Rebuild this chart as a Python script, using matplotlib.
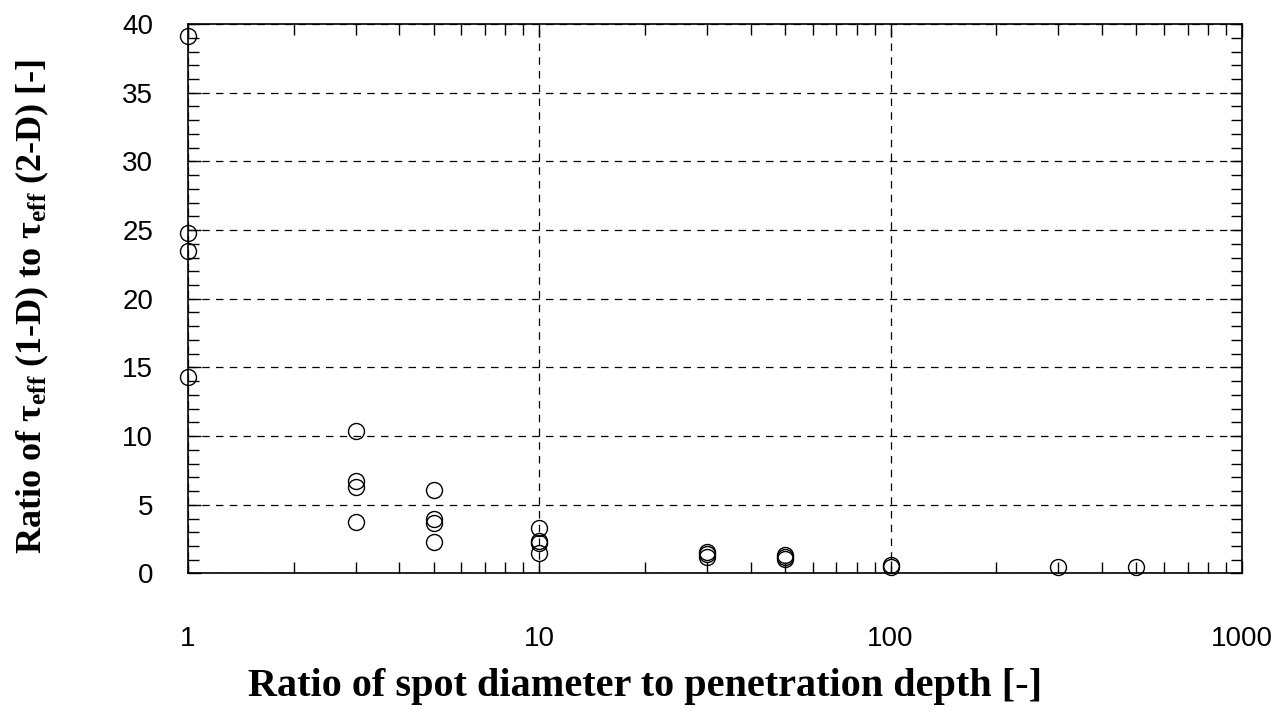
import matplotlib
matplotlib.use("Agg")
import matplotlib.pyplot as plt
from matplotlib.ticker import FixedLocator, NullFormatter, MultipleLocator, LogLocator

plt.rcParams["font.family"] = ["Liberation Sans", "DejaVu Sans"]
plt.rcParams["mathtext.fontset"] = "custom"
plt.rcParams["mathtext.rm"] = "Liberation Serif:bold"
plt.rcParams["mathtext.bf"] = "Liberation Serif:bold"
plt.rcParams["mathtext.it"] = "Liberation Serif:bold"

# Spot diameter / penetration depth ratio and the matching tau_eff ratios
spot_ratio = [1, 1, 1, 1,
              3, 3, 3, 3,
              5, 5, 5, 5,
              10, 10, 10, 10,
              30, 30, 30,
              50, 50, 50,
              100, 100,
              300, 500]
tau_ratio = [39.1, 24.8, 23.5, 14.3,
             10.4, 6.7, 6.3, 3.75,
             6.1, 4.0, 3.7, 2.3,
             3.3, 2.4, 2.2, 1.5,
             1.6, 1.4, 1.2,
             1.35, 1.2, 1.05,
             0.65, 0.5,
             0.5, 0.5]

x_ticks = [1, 10, 100, 1000]
x_ticklabels = ["1", "10", "100", "1000"]
y_ticks = [0, 5, 10, 15, 20, 25, 30, 35, 40]

fig = plt.figure(figsize=(12.83, 7.11), dpi=100)
ax = fig.add_axes([0.1465, 0.1934, 0.8215, 0.7728])

ax.set_xscale("log")
ax.set_xlim(1, 1000)
ax.set_ylim(0, 40)

ax.plot(spot_ratio, tau_ratio, linestyle="none", marker="o", markersize=11.5,
        markerfacecolor="none", markeredgecolor="black", markeredgewidth=1.0,
        clip_on=False, zorder=3)

ax.xaxis.set_major_locator(FixedLocator(x_ticks))
ax.set_xticklabels(x_ticklabels)
ax.xaxis.set_minor_locator(LogLocator(base=10, subs=range(2, 10)))
ax.xaxis.set_minor_formatter(NullFormatter())
ax.yaxis.set_major_locator(FixedLocator(y_ticks))
ax.yaxis.set_minor_locator(MultipleLocator(1))

ax.tick_params(which="both", direction="in", top=True, right=True,
               colors="black", labelsize=20)
ax.tick_params(which="major", length=9, width=1.0)
ax.tick_params(which="minor", length=8, width=1.0)
ax.tick_params(axis="x", which="major", pad=38)
ax.tick_params(axis="y", which="major", pad=25)

ax.grid(True, which="major", linestyle=(0, (6, 5)), color="black", linewidth=0.9)
for s in ax.spines.values():
    s.set_linewidth(1.2)
    s.set_color("black")

fig.text(0.503, 0.034, "Ratio of spot diameter to penetration depth [-]",
         family="Liberation Serif", weight="bold", fontsize=29,
         ha="center", va="center")
ax.set_ylabel(r"Ratio of τ$_{\rm eff}$ (1-D) to τ$_{\rm eff}$ (2-D) [-]",
              family="Liberation Serif", weight="bold", fontsize=26)
ax.yaxis.set_label_coords(-0.13, 0.487)

fig.savefig("out.png", dpi=100, facecolor="white")
